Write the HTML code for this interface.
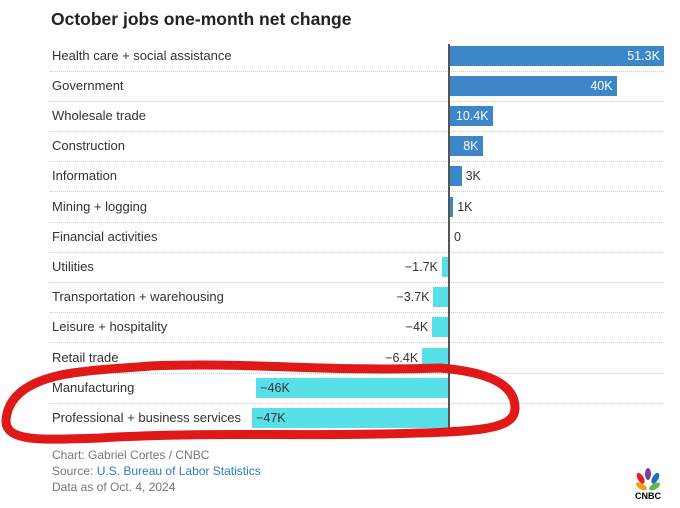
<!DOCTYPE html>
<html><head><style>
body{margin:0;width:680px;height:508px;background:#fff;font-family:"Liberation Sans",sans-serif;position:relative;overflow:hidden}
.t{position:absolute;left:51px;top:9px;font-size:17.5px;font-weight:bold;color:#222}
.l{position:absolute;left:52px;font-size:13px;color:#333;line-height:16px}
.sep{position:absolute;left:50px;width:614px;border-top:1px dotted #ccc}
.b{position:absolute;height:20px}
.v{position:absolute;font-size:12.5px;line-height:16px}
.f{position:absolute;left:52px;font-size:12px;color:#777}
</style></head><body>
<div class="t">October jobs one-month net change</div>
<div id="c"></div>
<div style="position:absolute;left:448px;top:44px;width:1.5px;height:385px;background:#555"></div>
<div class="f" style="top:448px">Chart: Gabriel Cortes / CNBC</div>
<div class="f" style="top:464px">Source: <span style="color:#2a7fc0">U.S. Bureau of Labor Statistics</span></div>
<div class="f" style="top:480px">Data as of Oct. 4, 2024</div>
<svg style="position:absolute;left:630px;top:465px" width="36" height="36" viewBox="0 0 36 36">
<g transform="translate(18,16)">
<ellipse cx="-8" cy="-3" rx="3" ry="6" fill="#f6a01a" transform="rotate(-60)"/>
<ellipse cx="-5" cy="-6" rx="3" ry="6" fill="#e4202e" transform="rotate(-30)"/>
<ellipse cx="0" cy="-7" rx="3" ry="6" fill="#7f3f98"/>
<ellipse cx="5" cy="-6" rx="3" ry="6" fill="#1a6fb9" transform="rotate(30)"/>
<ellipse cx="8" cy="-3" rx="3" ry="6" fill="#5bb947" transform="rotate(60)"/>
</g>
<text x="18" y="34" font-size="9" font-weight="bold" text-anchor="middle" font-family="Liberation Sans">CNBC</text>
</svg>
<svg style="position:absolute;left:0;top:0" width="680" height="508">
<path d="M150,366 C250,362 330,372 440,368 C490,372 515,385 515,408 C515,430 480,432 380,434 C280,436 200,432 100,438 C40,440 5,442 6,420 C8,395 30,378 80,372 C110,368 130,368 150,366" fill="none" stroke="#e01818" stroke-width="9" stroke-linecap="round"/>
</svg>
<script>
var d=[["Health care + social assistance",51.3,"51.3K"],["Government",40,"40K"],["Wholesale trade",10.4,"10.4K"],["Construction",8,"8K"],["Information",3,"3K"],["Mining + logging",1,"1K"],["Financial activities",0,"0"],["Utilities",-1.7,"\u22121.7K"],["Transportation + warehousing",-3.7,"\u22123.7K"],["Leisure + hospitality",-4,"\u22124K"],["Retail trade",-6.4,"\u22126.4K"],["Manufacturing",-46,"\u221246K"],["Professional + business services",-47,"\u221247K"]];
var h="",k=4.19,z=449;
d.forEach(function(r,i){var c=55.5+i*30.2,v=r[1],w=Math.abs(v)*k;
h+='<div class="l" style="top:'+(c-8)+'px">'+r[0]+'</div>';
if(i<12)h+='<div class="sep" style="top:'+(c+15)+'px"></div>';
if(v>0){h+='<div class="b" style="left:'+z+'px;top:'+(c-10)+'px;width:'+w+'px;background:#3d87c9"></div>';
if(w>30)h+='<div class="v" style="color:#fff;right:'+(680-z-w+4)+'px;top:'+(c-8)+'px">'+r[2]+'</div>';
else h+='<div class="v" style="color:#333;left:'+(z+w+4)+'px;top:'+(c-8)+'px">'+r[2]+'</div>';}
else if(v<0){h+='<div class="b" style="left:'+(z-w)+'px;top:'+(c-10)+'px;width:'+w+'px;background:#58e0e9"></div>';
if(w>30)h+='<div class="v" style="color:#333;left:'+(z-w+4)+'px;top:'+(c-8)+'px">'+r[2]+'</div>';
else h+='<div class="v" style="color:#333;right:'+(680-z+w+4)+'px;top:'+(c-8)+'px">'+r[2]+'</div>';}
else h+='<div class="v" style="color:#333;left:'+(z+5)+'px;top:'+(c-8)+'px">0</div>';});
document.getElementById("c").innerHTML=h;
</script>
</body></html>
